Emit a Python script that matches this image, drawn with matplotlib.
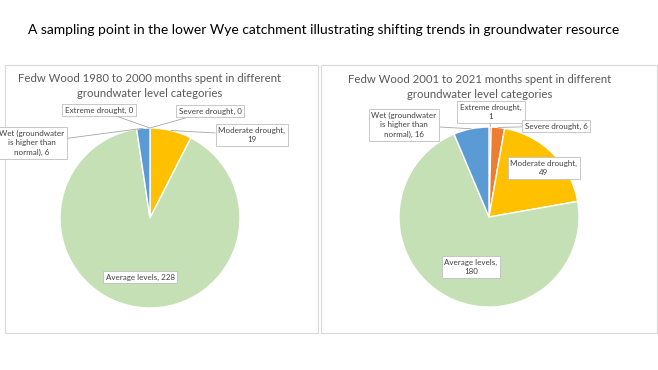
import numpy as np
import matplotlib.pyplot as plt
from matplotlib.patches import Rectangle

plt.rcParams['font.family'] = ['Lato', 'DejaVu Sans']

# Data
categories = ['Extreme drought', 'Severe drought', 'Moderate drought',
              'Average levels', 'Wet (groundwater\nis higher than\nnormal)']
colors = ['#E8352A', '#ED7D31', '#FFC000', '#C5E0B4', '#5B9BD5']
months_1980_2000 = [0, 0, 19, 228, 6]
months_2001_2021 = [1, 6, 49, 180, 16]

title_main = 'A sampling point in the lower Wye catchment illustrating shifting trends in groundwater resource'
title_left = 'Fedw Wood 1980 to 2000 months spent in different\ngroundwater level categories'
title_right = 'Fedw Wood 2001 to 2021 months spent in different\ngroundwater level categories'

W, H = 658, 370
fig = plt.figure(figsize=(W / 100, H / 100), dpi=100)
fig.patch.set_facecolor('white')

def px(x, y):
    # pixel (from top-left) -> figure fraction
    return x / W, 1 - y / H

# panel borders
for x0, x1 in [(5, 318), (321, 657)]:
    fx0, fy1 = px(x0, 65)
    fx1, fy0 = px(x1, 333)
    fig.patches.append(Rectangle((fx0, fy0), fx1 - fx0, fy1 - fy0, transform=fig.transFigure,
                                 facecolor='none', edgecolor='#D9D9D9', lw=0.8, zorder=-1))

fig.text(*px(324, 30), title_main, ha='center', va='center', fontsize=10.0, color='black')

R = 90
box = dict(boxstyle='square,pad=0.35', facecolor='white', edgecolor='#BFBFBF', lw=0.6)

def draw_pie(cx, cy, values, title, tx, ty, labels, two_line):
    l, t = px(cx - R, cy - R)
    r, b = px(cx + R, cy + R)
    ax = fig.add_axes([l, b, r - l, t - b])
    wedges, _ = ax.pie(values, colors=colors, startangle=90, counterclock=False, radius=1,
                       wedgeprops=dict(edgecolor='white', linewidth=1.0))
    ax.set_xlim(-1, 1)
    ax.set_ylim(-1, 1)
    ax.set_aspect('equal')
    ax.axis('off')
    fig.text(*px(tx, ty), title, ha='center', va='center', fontsize=8.2,
             color='#595959', linespacing=1.35)
    for i, (lx, ly, leader) in enumerate(labels):
        sep = ',\n' if i in two_line else ', '
        text = f'{categories[i]}{sep}{values[i]}'
        w = wedges[i]
        mid = np.deg2rad((w.theta1 + w.theta2) / 2)
        xy = (np.cos(mid), np.sin(mid))
        ap = dict(arrowstyle='-', color='#A6A6A6', lw=0.6, shrinkA=0, shrinkB=0) if leader else None
        ax.annotate(text, xy=xy, xytext=(lx, H - ly), textcoords='figure pixels',
                    ha='center', va='center', fontsize=5.8, color='#404040',
                    bbox=box, arrowprops=ap, linespacing=1.35, annotation_clip=False)

draw_pie(150, 218, months_1980_2000, title_left, 150, 86,
         [(99, 110, True), (210, 111, True), (252, 135, True), (140, 277, False), (32, 143, True)],
         two_line=(2,))
draw_pie(489, 217, months_2001_2021, title_right, 480, 87,
         [(491, 112, True), (556, 126, True), (544, 168, False), (471, 267, False), (404, 125, True)],
         two_line=(0, 2, 3))

plt.savefig('out.png', dpi=100)
